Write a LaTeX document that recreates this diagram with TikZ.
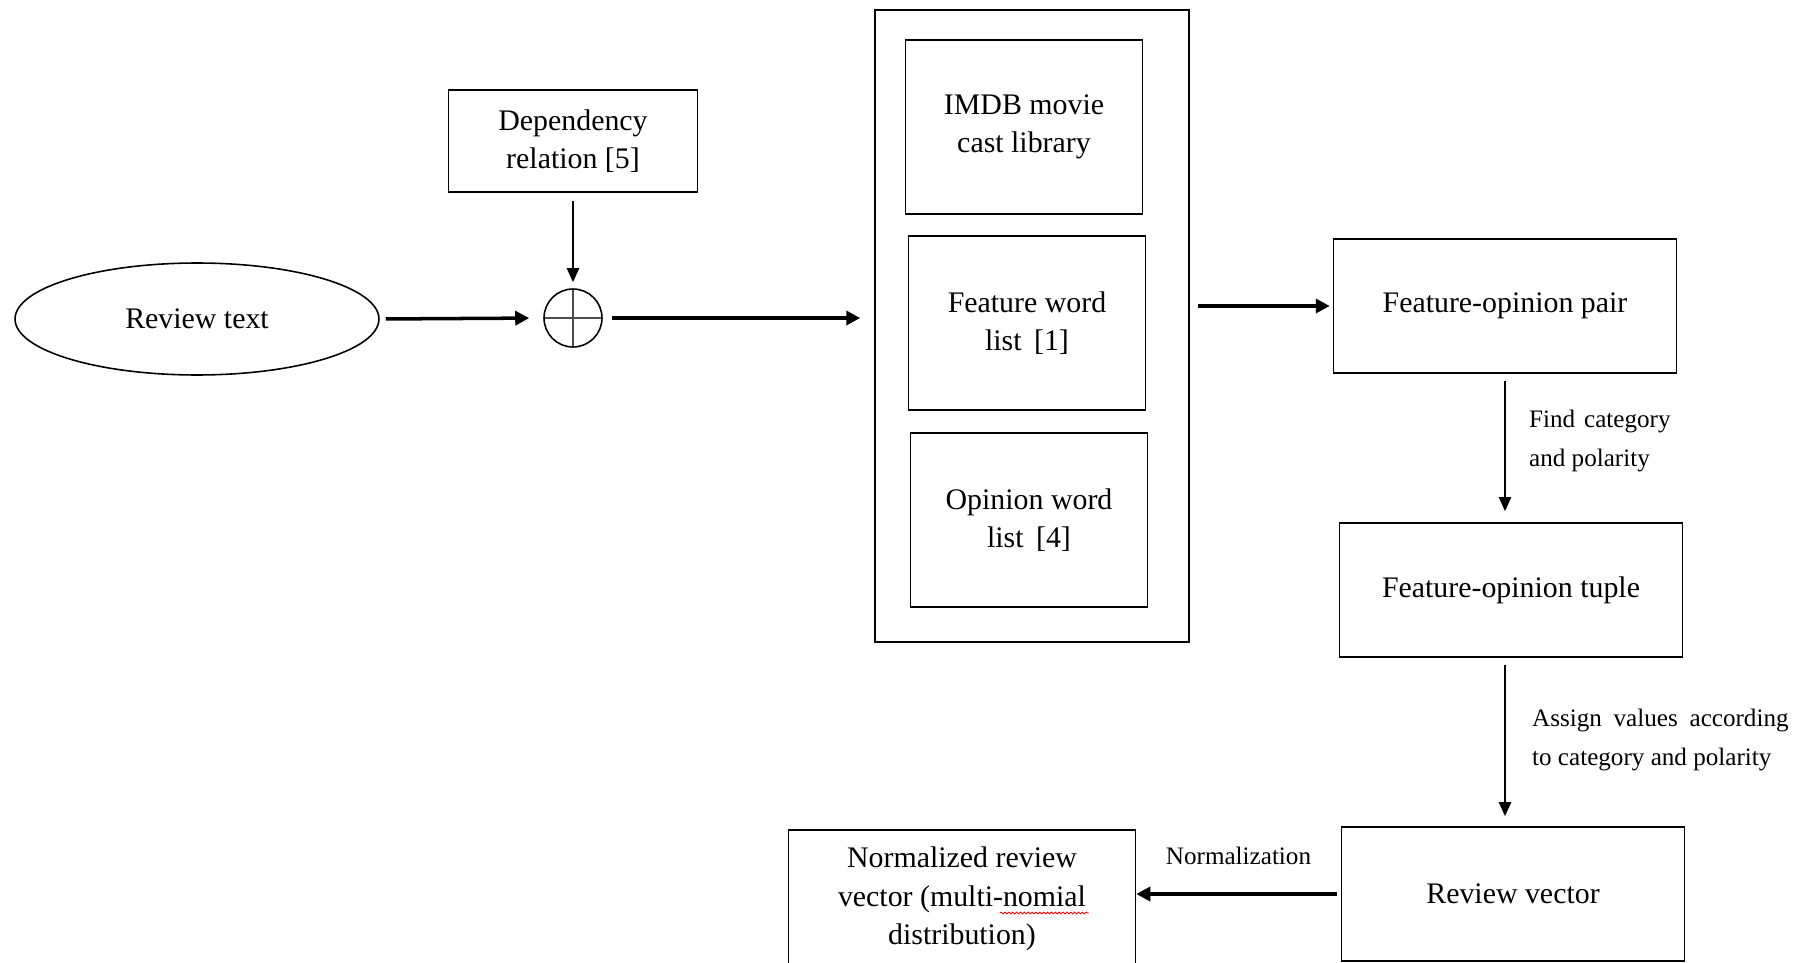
\documentclass[tikz,border=0pt]{standalone}
\usepackage{fontspec}
\setmainfont{Liberation Serif}
\usepackage{xcolor}
\usetikzlibrary{arrows.meta,shapes.geometric,positioning,decorations.pathmorphing}

\begin{document}
\begin{tikzpicture}[
  x=0.02cm, y=-0.02cm,
  box/.style={draw, line width=0.9pt, align=center, inner sep=0pt, font=\fontsize{17}{22}\selectfont},
  bigbox/.style={box, minimum width=6.86cm, minimum height=2.68cm},
  listbox/.style={box, minimum width=4.74cm, minimum height=3.48cm},
  plus/.style={draw, circle, line width=0.9pt, minimum size=1.16cm, inner sep=0pt,
    path picture={\draw[gray!60!black, line width=0.6pt]
      (path picture bounding box.north) -- (path picture bounding box.south)
      (path picture bounding box.west) -- (path picture bounding box.east);}},
  harrow/.style={-{Triangle[length=0.28cm, width=0.28cm]}, line width=2pt},
  varrow/.style={-{Triangle[length=0.28cm, width=0.24cm]}, line width=1.3pt},
  lbl/.style={inner sep=0pt, align=left, font=\fontsize{14.3}{22.5}\selectfont},
  squiggle/.style={red, line width=0.5pt, decorate, decoration={snake, amplitude=0.5pt, segment length=2.2pt}}
]
\clip (0,0) rectangle (1800,963);

\node[box, ellipse, minimum width=7.28cm, minimum height=2.24cm] (review) at (197,319) {Review text};
\node[box, minimum width=4.98cm, minimum height=2.04cm] (dep) at (573,141) {Dependency\\relation [5]};
\node[plus] (plus) at (573,318) {};

\node[box, minimum width=6.28cm, minimum height=12.64cm] (lib) at (1032,326) {};
\node[listbox] (imdb) at (1024,127) {IMDB movie\\cast library};
\node[listbox] (feat) at (1027,323) {Feature word\\list\, [1]};
\node[listbox] (opin) at (1029,520) {Opinion word\\list\, [4]};

\node[bigbox] (pair) at (1505,306) {Feature-opinion pair};
\node[bigbox] (tuple) at (1511,590) {Feature-opinion tuple};
\node[bigbox] (vec) at (1513,894) {Review vector};
\node[box, minimum width=6.94cm, minimum height=2.76cm] (norm) at (962,899)
  {Normalized review\\vector (multi-nomial\\distribution)};
\draw[squiggle] ([xshift=0.76cm, yshift=-0.28cm]norm.center) -- ++(89,0);

\draw[harrow, shorten <=0.12cm, shorten >=0.28cm] (review.east) -- (plus.west);
\draw[varrow, shorten <=0.16cm, shorten >=0.12cm] (dep.south) -- (plus.north);
\draw[harrow, shorten <=0.18cm, shorten >=0.28cm] (plus.east) -- (plus -| lib.west);
\draw[harrow, shorten <=0.16cm, shorten >=0.06cm] (lib.east |- pair.west) -- (pair.west);

\draw[varrow, shorten <=0.14cm, shorten >=0.22cm] (pair.south) -- (pair.south |- tuple.north)
  node[midway, right=0.46cm, yshift=0.14cm, lbl] {\makebox[80.5pt][s]{Find category}\\and polarity};
\draw[varrow, shorten <=0.14cm, shorten >=0.2cm] (pair.south |- tuple.south) -- (pair.south |- vec.north)
  node[midway, right=0.52cm, yshift=0.04cm, lbl] {\makebox[146pt][s]{Assign values according}\\to category and polarity};
\draw[harrow, shorten <=0.08cm] (vec.west) -- (vec.west -| norm.east)
  node[midway, above=0.55cm, lbl] {Normalization};
\end{tikzpicture}
\end{document}
